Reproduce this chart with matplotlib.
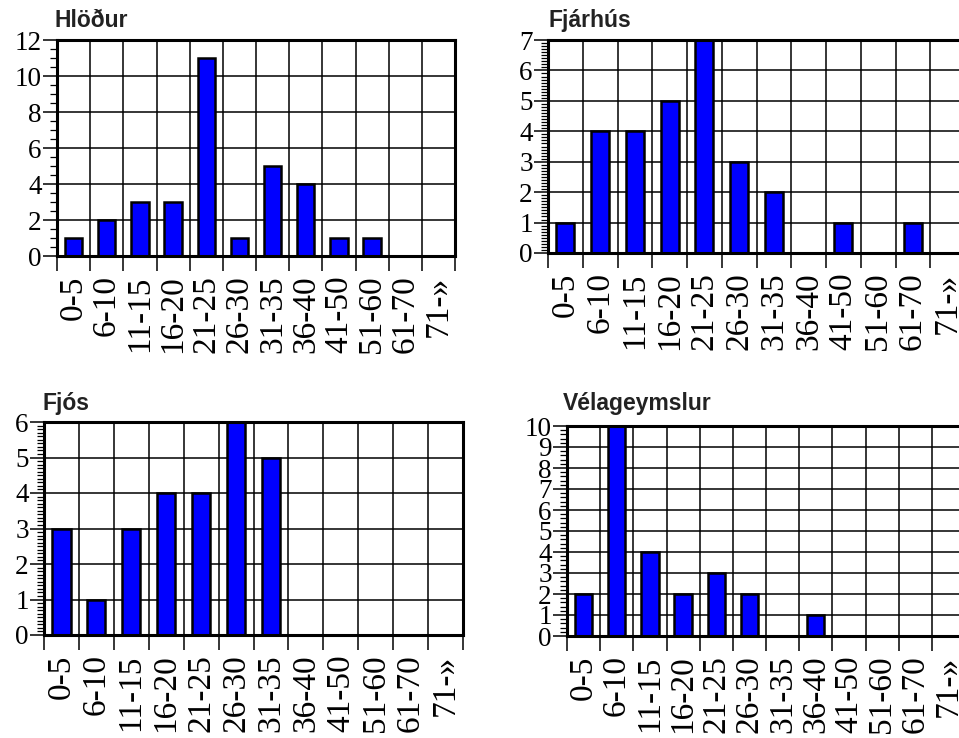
import matplotlib
matplotlib.use('Agg')
import matplotlib.pyplot as plt
from matplotlib.ticker import MultipleLocator, FixedLocator, NullFormatter, FixedFormatter

categories = ['0-5', '6-10', '11-15', '16-20', '21-25', '26-30', '31-35',
              '36-40', '41-50', '51-60', '61-70', '71-»']
titles = ['Hlöður', 'Fjárhús', 'Fjós', 'Vélageymslur']
hlodur = [1, 2, 3, 3, 11, 1, 5, 4, 1, 1, 0, 0]
fjarhus = [1, 4, 4, 5, 7, 3, 2, 0, 1, 0, 1, 0]
fjos = [3, 1, 3, 4, 4, 6, 5, 0, 0, 0, 0, 0]
velageymslur = [2, 10, 4, 2, 3, 2, 0, 1, 0, 0, 0, 0]
ymax = [12, 7, 6, 10]
ymajor = [2, 1, 1, 1]
yminor = [0.5, 0.1, 0.1, 0.2]
series = [hlodur, fjarhus, fjos, velageymslur]

W, H = 959, 738
fig = plt.figure(figsize=(W / 100, H / 100), dpi=100)

# axes boxes in pixels: left, top, right, bottom ; title anchor (x, baseline y)
boxes = [(57, 40, 455, 256), (548, 40, 965, 253), (44, 422, 463, 635), (567, 426, 965, 636)]
title_pos = [(55, 27), (548, 27), (42, 410), (563, 410)]

serif = 'Liberation Serif'
sans = 'Liberation Sans'

for k in range(4):
    l, t, r, b = boxes[k]
    ax = fig.add_axes([l / W, 1 - b / H, (r - l) / W, (b - t) / H])
    n = len(categories)
    centers = [i + 0.5 for i in range(n)]
    ax.bar(centers, series[k], width=0.52, color='#0000FF', edgecolor='black',
           linewidth=1.8, zorder=3)
    ax.set_xlim(0, n)
    ax.set_ylim(0, ymax[k])
    ax.set_axisbelow(True)

    ax.xaxis.set_major_locator(FixedLocator(list(range(n + 1))))
    ax.xaxis.set_major_formatter(NullFormatter())
    ax.xaxis.set_minor_locator(FixedLocator(centers))
    ax.xaxis.set_minor_formatter(FixedFormatter(categories))
    ax.tick_params(axis='x', which='major', direction='out', length=11, width=1.1,
                   color='black')
    ax.tick_params(axis='x', which='minor', length=0, pad=14, labelsize=24,
                   labelrotation=90)
    for lab in ax.get_xticklabels(minor=True):
        lab.set_fontfamily(serif)

    ax.yaxis.set_major_locator(MultipleLocator(ymajor[k]))
    ax.yaxis.set_minor_locator(MultipleLocator(yminor[k]))
    ax.tick_params(axis='y', which='major', direction='out', length=10, width=1.1,
                   pad=1, labelsize=19.5)
    ax.tick_params(axis='y', which='minor', direction='out', length=5, width=0.9)
    for lab in ax.get_yticklabels():
        lab.set_fontfamily(serif)

    ax.grid(True, which='major', color='black', linewidth=1.1)
    for s in ax.spines.values():
        s.set_linewidth(2.2)
        s.set_color('black')
        s.set_zorder(4)

    tx, ty = title_pos[k]
    fig.text(tx / W, 1 - ty / H, titles[k], fontfamily=sans, fontweight='bold',
             fontsize=16.5, color='#222222', ha='left', va='baseline')

fig.savefig('out.png', dpi=100)
